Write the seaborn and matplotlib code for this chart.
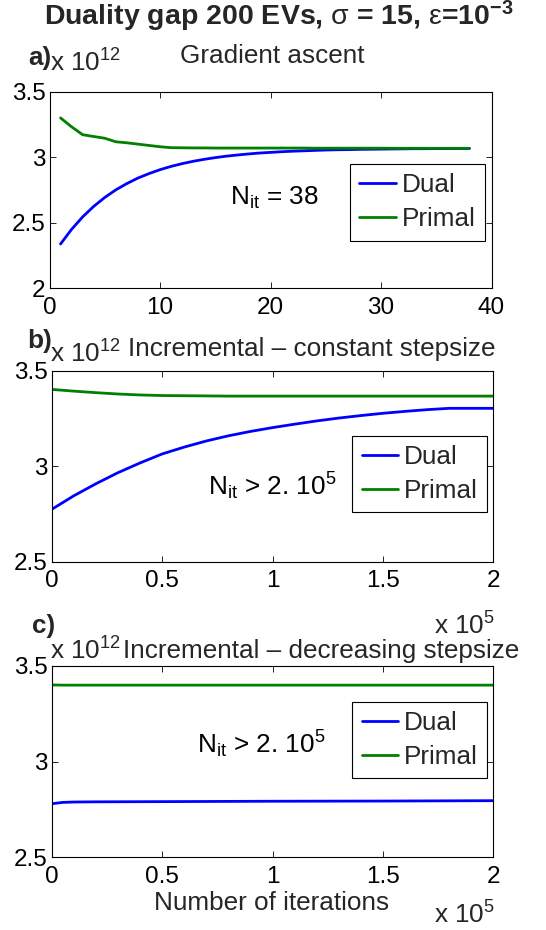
import matplotlib
matplotlib.use('Agg')
import matplotlib.pyplot as plt
import seaborn as sns
from matplotlib.ticker import FixedLocator, FixedFormatter

sns.set_theme(style='white')
plt.rcParams['font.family'] = ['Liberation Sans', 'DejaVu Sans']
plt.rcParams['mathtext.fontset'] = 'custom'
plt.rcParams['mathtext.rm'] = 'Liberation Sans'
plt.rcParams['mathtext.it'] = 'Liberation Sans:italic'
plt.rcParams['mathtext.bf'] = 'Liberation Sans:bold'

# ---------------- data (values in units of 10^12) ----------------
a_iter = list(range(1, 39))
a_dual = [2.338, 2.450, 2.545, 2.625, 2.693, 2.751, 2.799, 2.841, 2.875, 2.905,
          2.930, 2.951, 2.969, 2.984, 2.997, 3.008, 3.017, 3.025, 3.032, 3.037,
          3.042, 3.046, 3.049, 3.052, 3.055, 3.057, 3.058, 3.060, 3.061, 3.062,
          3.063, 3.064, 3.065, 3.065, 3.066, 3.066, 3.067, 3.067]
a_primal = [3.300, 3.232, 3.172, 3.158, 3.145, 3.118, 3.110, 3.100, 3.090, 3.080,
            3.073, 3.072, 3.071, 3.071, 3.070, 3.070, 3.070, 3.070, 3.070, 3.070,
            3.070, 3.070, 3.070, 3.069, 3.069, 3.069, 3.069, 3.069, 3.069, 3.069,
            3.068, 3.068, 3.068, 3.068, 3.068, 3.068, 3.068, 3.068]

b_iter = [0, 10000, 20000, 30000, 40000, 50000, 60000, 70000, 80000, 90000,
          100000, 110000, 120000, 130000, 140000, 150000, 160000, 170000,
          180000, 190000, 200000]
b_dual = [2.774, 2.845, 2.908, 2.966, 3.017, 3.064, 3.100, 3.132, 3.159, 3.182,
          3.202, 3.220, 3.237, 3.252, 3.265, 3.277, 3.287, 3.296, 3.303, 3.303,
          3.303]
b_primal = [3.402, 3.393, 3.385, 3.378, 3.373, 3.370, 3.369, 3.368, 3.367, 3.367,
            3.367, 3.367, 3.367, 3.367, 3.367, 3.367, 3.367, 3.367, 3.367, 3.367,
            3.367]

c_iter = [0, 5000, 10000, 20000, 50000, 100000, 150000, 200000]
c_dual = [2.780, 2.787, 2.789, 2.790, 2.791, 2.793, 2.794, 2.796]
c_primal = [3.401, 3.400, 3.400, 3.400, 3.400, 3.400, 3.400, 3.400]

labels = ['Dual', 'Primal']
colors = ['#0000ff', '#008000']

a_xticks = [0, 10, 20, 30, 40]
a_yticks = [2, 2.5, 3, 3.5]
a_ytick_labels = ['2', '2.5', '3', '3.5']
bc_xticks = [0, 50000, 100000, 150000, 200000]
bc_xtick_labels = ['0', '0.5', '1', '1.5', '2']
bc_yticks = [2.5, 3, 3.5]
bc_ytick_labels = ['2.5', '3', '3.5']

W, H = 546, 930
fig = plt.figure(figsize=(W / 100, H / 100), dpi=100)


def ax_at(l, t, r, b):
    return fig.add_axes([l / W, 1 - b / H, (r - l) / W, (b - t) / H])


def fx(px):
    return px / W


def fy(py):
    return 1 - py / H


FS_TICK = 17.5
FS = 18.8
axA = ax_at(49.5, 91.7, 491.5, 288.3)
axB = ax_at(51.7, 370.7, 493.3, 561.7)
axC = ax_at(51.7, 666.0, 493.3, 857.3)

panels = [
    (axA, a_iter, a_dual, a_primal, (0, 40), (2, 3.5), a_xticks, [str(v) for v in a_xticks], a_yticks, a_ytick_labels,
     (0.985, 0.632), (0.408, 0.424), r'N$_{\mathregular{it}}$ = 38'),
    (axB, b_iter, b_dual, b_primal, (0, 200000), (2.5, 3.5), bc_xticks, bc_xtick_labels, bc_yticks, bc_ytick_labels,
     (0.986, 0.658), (0.354, 0.349), r'N$_{\mathregular{it}}$ > 2. 10$^{\mathregular{5}}$'),
    (axC, c_iter, c_dual, c_primal, (0, 200000), (2.5, 3.5), bc_xticks, bc_xtick_labels, bc_yticks, bc_ytick_labels,
     (0.986, 0.812), (0.329, 0.544), r'N$_{\mathregular{it}}$ > 2. 10$^{\mathregular{5}}$'),
]

for (ax, xs, dual, primal, xl, yl, xt, xtl, yt, ytl, legpos, txtpos, txt) in panels:
    sns.lineplot(x=xs, y=dual, ax=ax, color=colors[0], linewidth=2.0, label=labels[0])
    sns.lineplot(x=xs, y=primal, ax=ax, color=colors[1], linewidth=2.0, label=labels[1])
    ax.set_xlim(*xl)
    ax.set_ylim(*yl)
    ax.xaxis.set_major_locator(FixedLocator(xt))
    ax.xaxis.set_major_formatter(FixedFormatter(xtl))
    ax.yaxis.set_major_locator(FixedLocator(yt))
    ax.yaxis.set_major_formatter(FixedFormatter(ytl))
    ax.tick_params(direction='in', length=4, width=0.6, labelsize=FS_TICK, colors='black',
                   top=True, right=True, bottom=True, left=True)
    ax.tick_params(axis='x', pad=6)
    ax.tick_params(axis='y', pad=3)
    for sp in ax.spines.values():
        sp.set_visible(True)
        sp.set_color('black')
        sp.set_linewidth(0.8)
    ax.set_facecolor('white')
    ax.set_xlabel('')
    ax.set_ylabel('')
    leg = ax.legend(loc='upper right', bbox_to_anchor=legpos, fontsize=FS, frameon=True,
                    fancybox=False, framealpha=1, edgecolor='black', borderpad=0.36,
                    handlelength=1.4, handletextpad=0.22, labelspacing=0.37, borderaxespad=0)
    leg.get_frame().set_linewidth(0.8)
    ax.text(txtpos[0], txtpos[1], txt, transform=ax.transAxes, fontsize=FS,
            ha='left', va='baseline', color='black')

# titles and decorations
fig.text(fx(279), fy(25),
         r'Duality gap 200 EVs, $\mathrm{\sigma}$ = 15, $\mathrm{\varepsilon}$=10$^{\mathbf{-3}}$',
         ha='center', va='baseline', fontsize=20.5, fontweight='bold')
fig.text(fx(272), fy(63), 'Gradient ascent', ha='center', va='baseline', fontsize=FS)
fig.text(fx(128), fy(356), 'Incremental \u2013 constant stepsize', ha='left', va='baseline', fontsize=FS)
fig.text(fx(123), fy(658), 'Incremental \u2013 decreasing stepsize', ha='left', va='baseline', fontsize=FS)

for lbl, lx, ly in [('a)', 28, 65), ('b)', 27, 348), ('c)', 32, 633)]:
    fig.text(fx(lx), fy(ly), lbl, ha='left', va='baseline', fontsize=FS, fontweight='bold')

for ly in [72, 363, 660]:
    fig.text(fx(50), fy(ly), r'x 10$^{\mathregular{12}}$', ha='left', va='baseline', fontsize=FS)

for ly in [635, 924]:
    fig.text(fx(434), fy(ly), r'x 10$^{\mathregular{5}}$', ha='left', va='baseline', fontsize=FS)

fig.text(fx(272), fy(910), 'Number of iterations', ha='center', va='baseline', fontsize=FS)

fig.savefig('out.png', dpi=100, facecolor='white')
